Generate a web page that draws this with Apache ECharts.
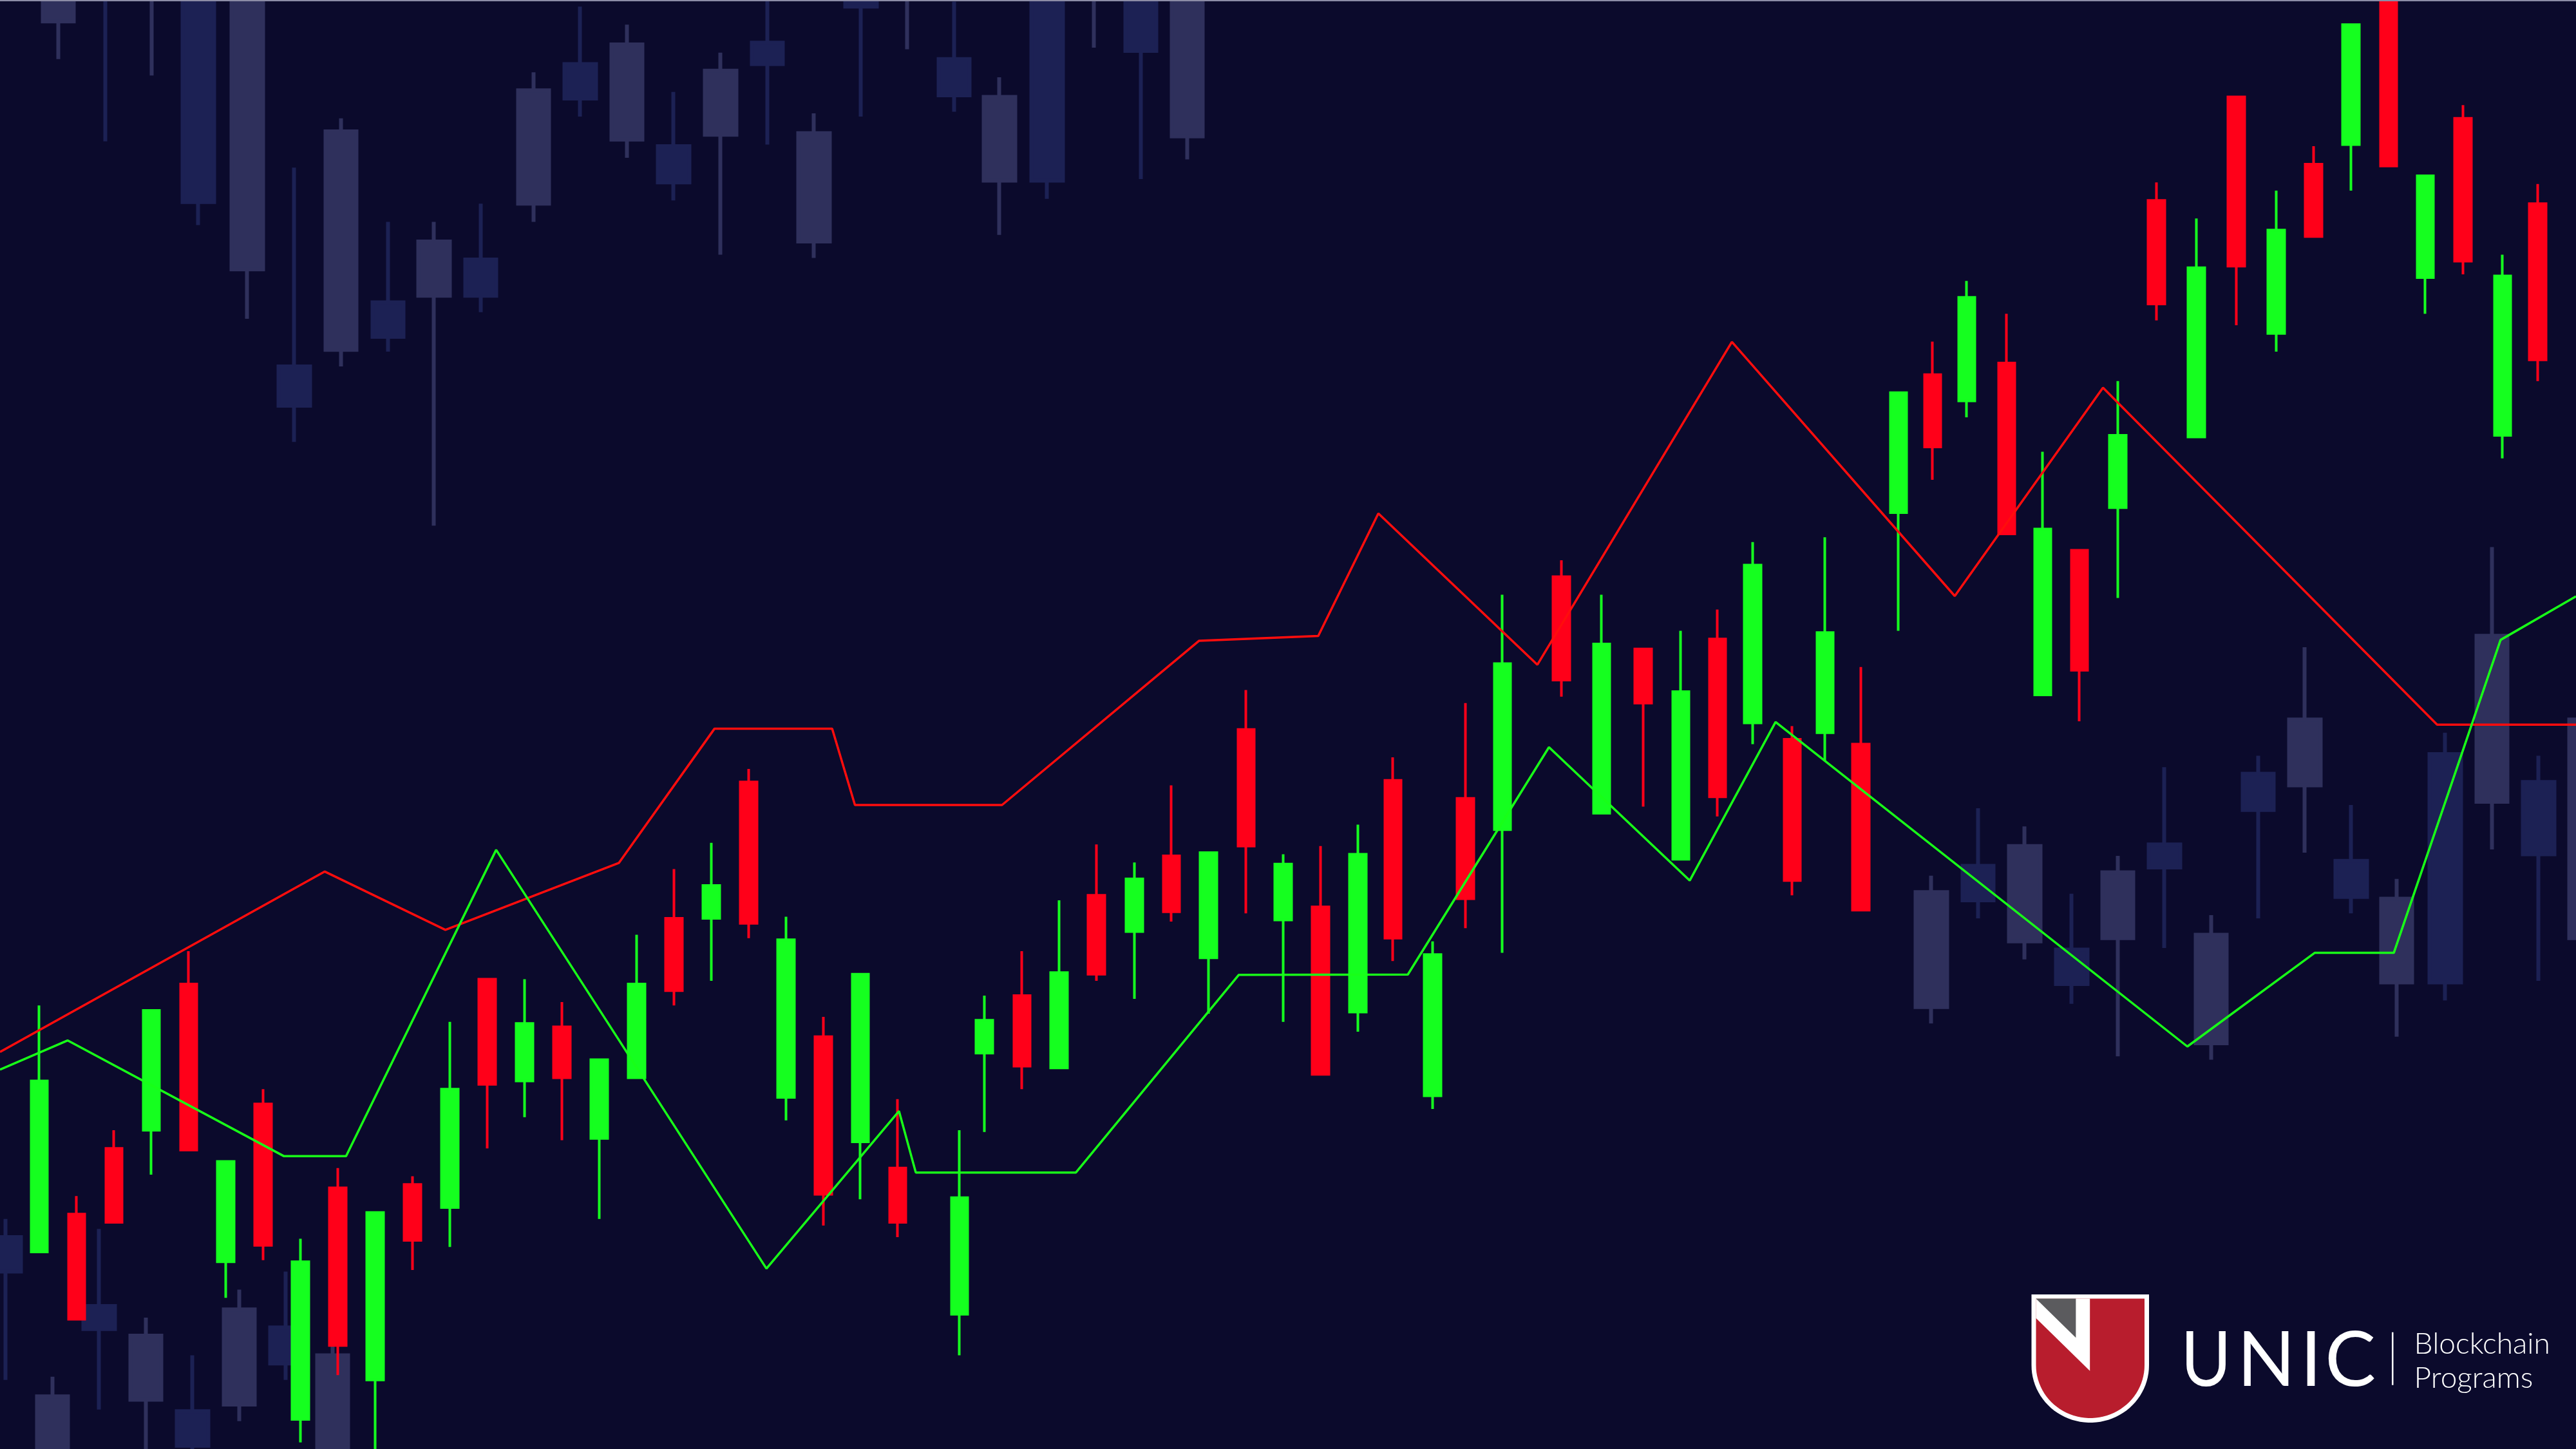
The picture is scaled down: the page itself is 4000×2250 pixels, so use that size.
<!DOCTYPE html>
<html>
<head>
<meta charset="utf-8">
<script src="https://cdn.jsdelivr.net/npm/echarts@6/dist/echarts.min.js"></script>
<style>
html,body{margin:0;padding:0;background:#0b0a2c;}
#chart{width:4000px;height:2250px;}
</style>
</head>
<body>
<div id="chart"></div>
<script>
// ---- Foreground candles (time in sessions, prices in chart units) ----
const fgTime  = [0,1,2,3,4,5,6,7,8,9,10,11,12,13,14,15,16,17,18,19,20,21,22,23,
  24.65,25.32,26.33,27.32,28.32,29.34,30.33,31.32,32.33,33.32,34.32,35.32,36.26,37.32,38.2,39.19,
  40.77,41.85,42.96,43.97,44.96,45.9,46.96,47.84,48.79,49.8,50.72,51.63,52.7,53.67,54.65,55.68,
  56.71,57.78,58.85,59.92,60.92,61.92,62.93,63.91,64.92,65.98,66.92];
const fgOpen  = [120,143,183,194,283,114,210,18,159,42,161,147,286,224,257,189,226,323,323,406,214,251,187,171,
  82,241,276,232,337,315,361,299,438,322,330,266,407,215,396,377,
  531,387,487,359,493,442,432,436,429,570,654,638,661,459,547,573,
  760,616,823,679,782,794,900,713,810,617,758];
const fgClose = [224,79,138,267,182,175,124,114,63,144,127,219,222,259,226,237,283,279,343,320,310,155,289,138,
  153,261,233,290,289,347,327,363,367,356,228,362,311,301,335,478,
  468,490,454,461,397,538,346,497,328,643,610,701,557,560,474,617,
  697,719,720,742,738,867,781,775,723,714,663];
const fgLow   = [120,79,138,167,182,92,115,4,45,-2,109,123,183,202,188,140,226,270,285,311,200,136,152,129,
  57,193,219,232,285,274,321,265,326,260,228,254,297,207,317,302,
  458,387,391,359,385,429,337,419,328,498,590,628,557,459,443,518,
  687,616,684,668,738,766,781,691,715,603,650];
const fgHigh  = [270,154,194,267,303,175,219,128,171,144,166,260,286,286,272,237,313,353,369,414,324,263,289,213,
  194,276,303,334,368,357,404,363,462,362,367,380,421,309,454,520,
  541,520,487,498,511,552,440,555,476,643,674,711,691,607,547,650,
  771,749,823,766,793,867,910,775,818,727,770];

// ---- Background (faded) candles ----
const bgTime  = [-0.9,0.36,1.61,2.86,4.11,5.36,6.61,7.86,
  0.51,1.77,3.01,4.26,5.57,6.83,8.08,9.34,10.58,11.83,13.24,14.49,15.74,16.99,18.25,19.5,20.75,22.01,23.25,24.51,25.72,27.0,28.26,29.51,30.75,
  50.68,51.93,53.18,54.44,55.68,56.93,58.18,59.44,60.69,61.93,63.15,64.45,65.7,66.95,68.19];
const bgOpen  = [129,-20,87,30,23,27,74,-20,
  869,942,890,920,718,659,669,698,702,724,758,843,797,793,800,856,735,910,900,846,772,920,900,920,799,
  269,355,309,304,311,368,247,411,404,358,284,423,394,406,311];
const bgClose = [108,32,73,69,2,85,52,57,
  907,892,940,759,920,635,802,677,735,702,827,822,855,771,839,843,801,878,940,824,823,772,940,851,920,
  339,334,367,283,351,354,313,389,444,336,335,284,495,362,444];
const bgLow   = [42,-30,24,-20,-20,17,42,-30,
  846,796,836,745,688,613,659,668,562,692,747,811,786,760,727,794,725,811,852,814,739,761,853,773,785,
  259,323,298,271,239,305,237,323,363,326,251,273,365,285,300];
const bgHigh  = [140,44,134,80,57,97,108,63,
  930,960,960,930,930,780,810,747,747,758,838,878,867,826,850,900,813,930,960,881,835,940,960,940,940,
  349,390,379,338,361,415,325,422,488,392,347,436,549,422,456];

// ---- Indicator lines ----
const redTime    = [-1.05,7.65,10.88,15.53,18.09,21.24,21.85,25.79,31.07,34.26,35.87,40.13,45.34,51.31,55.28,64.23,67.95];
const redValue   = [241.7,351.5,316,356.8,438.5,438.5,392,392,492,494.9,569.5,477.4,673.9,519.2,646,440.9,440.9];
const greenTime  = [-1.05,0.76,6.55,8.22,12.24,19.48,23.03,23.48,27.77,32.13,36.66,40.44,44.21,46.51,57.54,60.95,63.07,65.93,67.95];
const greenValue = [230.9,248.7,178.3,178.3,364.7,109.8,205.7,168.3,168.3,288.6,288.8,427.2,346,442.5,245,302,302,492.5,519];

const fgData = fgTime.map((t, i) => [t, fgOpen[i], fgClose[i], fgLow[i], fgHigh[i]]);
const bgData = bgTime.map((t, i) => [t, bgOpen[i], bgClose[i], bgLow[i], bgHigh[i]]);
const redData = redTime.map((t, i) => [t, redValue[i]]);
const greenData = greenTime.map((t, i) => [t, greenValue[i]]);

// logo shield outline (rectangle top + half-ellipse bottom)
function shield(l, r, top, cy, ry) {
  const cx = (l + r) / 2, rx = (r - l) / 2;
  const pts = [[l, top], [r, top], [r, cy]];
  for (let a = 0; a <= 180; a += 4) {
    const rad = a * Math.PI / 180;
    pts.push([cx + rx * Math.cos(rad), cy + ry * Math.sin(rad)]);
  }
  pts.push([l, cy]);
  return pts;
}

const chart = echarts.init(document.getElementById('chart'), null, {renderer: 'canvas'});
chart.setOption({
  animation: false,
  backgroundColor: '#0b0a2c',
  grid: {left: 0, right: 0, top: 0, bottom: 0, containLabel: false},
  xAxis: {type: 'value', min: -1.05, max: 67.95, show: false, splitLine: {show: false}},
  yAxis: {type: 'value', min: 0, max: 882, show: false, splitLine: {show: false}},
  series: [
    {
      type: 'candlestick', name: 'background', data: bgData,
      encode: {x: 0, y: [1, 2, 3, 4]},
      barWidth: 49, z: 1, silent: true,
      itemStyle: {color: '#2f305c', color0: '#1c2154', borderColor: '#2f305c', borderColor0: '#1c2154', borderWidth: 6}
    },
    {
      type: 'candlestick', name: 'price', data: fgData,
      encode: {x: 0, y: [1, 2, 3, 4]},
      barWidth: 26, z: 2, silent: true,
      itemStyle: {color: '#15ff1f', color0: '#ff0019', borderColor: '#15ff1f', borderColor0: '#ff0019', borderWidth: 4}
    },
    {
      type: 'line', name: 'upper', data: redData, symbol: 'none', z: 3, silent: true,
      lineStyle: {color: '#ff0d0d', width: 3.5}
    },
    {
      type: 'line', name: 'lower', data: greenData, symbol: 'none', z: 3, silent: true,
      lineStyle: {color: '#18ff18', width: 3.5}
    }
  ],
  graphic: {
    elements: [
      {type: 'rect', shape: {x: 0, y: 0, width: 4000, height: 2}, style: {fill: '#8c8ca6'}, z: 10},
      {type: 'polygon', shape: {points: shield(3154.5, 3337, 2010, 2120, 89)}, style: {fill: '#ffffff'}, z: 10},
      {type: 'polygon', shape: {points: shield(3161.5, 3330, 2016.6, 2120, 82)}, style: {fill: '#b81d2d'}, z: 11},
      {type: 'polygon', shape: {points: [[3161.4,2016.6],[3245.2,2016.6],[3245.2,2128.8],[3161.4,2046.8]]}, style: {fill: '#ffffff'}, z: 12},
      {type: 'polygon', shape: {points: [[3161.4,2016.6],[3223.4,2016.6],[3223.4,2077.3]]}, style: {fill: '#5b5b5e'}, z: 13},
      {type: 'text', x: 3425.5, y: 2114, scaleX: 0.9, style: {text: 'U', x: 0, y: 0, fill: '#ffffff', font: '400 118px Lato', align: 'center', verticalAlign: 'middle'}, z: 12},
      {type: 'text', style: {text: 'N', x: 3519, y: 2114, fill: '#ffffff', font: '400 118px Lato', align: 'center', verticalAlign: 'middle'}, z: 12},
      {type: 'text', style: {text: 'I', x: 3588.5, y: 2114, fill: '#ffffff', font: '400 118px Lato', align: 'center', verticalAlign: 'middle'}, z: 12},
      {type: 'text', style: {text: 'C', x: 3649.6, y: 2114, fill: '#ffffff', font: '400 118px Lato', align: 'center', verticalAlign: 'middle'}, z: 12},
      {type: 'rect', shape: {x: 3714, y: 2068.7, width: 2.5, height: 82}, style: {fill: '#ffffff'}, z: 12},
      {type: 'text', style: {text: 'Blockchain', x: 3748.6, y: 2087, fill: '#ffffff', font: '300 46px Lato', align: 'left', verticalAlign: 'middle'}, z: 12},
      {type: 'text', style: {text: 'Programs', x: 3748.6, y: 2140, fill: '#ffffff', font: '300 46px Lato', align: 'left', verticalAlign: 'middle'}, z: 12}
    ]
  }
});
</script>
</body>
</html>
